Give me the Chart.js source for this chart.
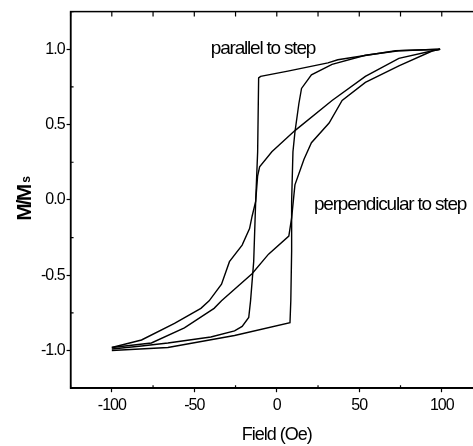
<!DOCTYPE html>
<html>
<head>
<meta charset="utf-8">
<script src="https://cdn.jsdelivr.net/npm/chart.js@4/dist/chart.umd.min.js"></script>
<style>
  html, body { margin: 0; padding: 0; background: #fff; overflow: hidden; }
  #wrap { width: 487px; height: 446px; }
</style>
</head>
<body>
<div id="wrap"><canvas id="loopChart" width="487" height="446"></canvas></div>
<script>
// ---- data (field in Oe, M/Ms) ----
const parDownField = [99, 72, 37, 31, 6.7, -9.8, -11, -11.6, -12.8, -14, -15.9, -17, -21, -25.6, -40, -66, -82, -100];
const parDownMag   = [1.0, 0.99, 0.93, 0.91, 0.855, 0.82, 0.81, 0.32, -0.01, -0.41, -0.67, -0.78, -0.84, -0.87, -0.91, -0.95, -0.97, -0.99];

const parUpField = [-100, -66, -25.6, 8, 8.5, 9, 9, 9.8, 11, 13.4, 15, 21, 33.5, 53.7, 74, 99];
const parUpMag   = [-1.0, -0.98, -0.90, -0.815, -0.67, -0.34, -0.01, 0.32, 0.45, 0.64, 0.74, 0.83, 0.90, 0.96, 0.99, 1.0];

const perpDownField = [99, 94.5, 74, 53.7, 33.5, 11, -3, -10.4, -11.6, -12.8, -15, -16.5, -21, -28.7, -33.5, -41, -46, -62, -82, -100];
const perpDownMag   = [1.0, 0.99, 0.94, 0.82, 0.66, 0.46, 0.32, 0.22, 0.16, -0.01, -0.11, -0.19, -0.30, -0.41, -0.56, -0.67, -0.72, -0.82, -0.93, -0.98];

const perpUpField = [-100, -76, -56, -38, -33.5, -15, -5, 7.3, 9, 10, 11, 16.5, 21, 31.7, 39.6, 53.7, 74, 94.5, 99];
const perpUpMag   = [-0.98, -0.95, -0.85, -0.72, -0.67, -0.49, -0.36, -0.24, -0.12, -0.01, 0.1, 0.27, 0.38, 0.51, 0.66, 0.78, 0.89, 0.99, 1.0];

const xTickLabels = [-100, -50, 0, 50, 100];
const yTickLabels = [-1.0, -0.5, 0.0, 0.5, 1.0];

// text labels placed at data coordinates
const notes = [
  { text: "parallel to step", x: -40, y: 1.0 },
  { text: "perpendicular to step", x: 22.5, y: -0.03 }
];

const FONT = "'Liberation Sans', Arial, sans-serif";

function toPoints(xs, ys) {
  return xs.map((x, i) => ({ x: x, y: ys[i] }));
}

function lineSet(label, xs, ys) {
  return {
    label: label,
    data: toPoints(xs, ys),
    showLine: true,
    borderColor: "#000",
    borderWidth: 1.4,
    pointRadius: 0,
    tension: 0,
    fill: false
  };
}

const isLabelled = (list, v) => list.some(t => Math.abs(t - v) < 1e-6);

// the printed figure uses a very tight typeface, squeeze the letters
const squeezePlugin = {
  id: "squeeze",
  beforeUpdate(chart) { chart.ctx.letterSpacing = "-1px"; },
  beforeDraw(chart) { chart.ctx.letterSpacing = "-1px"; }
};

// frame, inward ticks, notes and y title
const framePlugin = {
  id: "framePlugin",
  afterDraw(chart) {
    const ctx = chart.ctx;
    const a = chart.chartArea;
    const xs = chart.scales.x;
    const ys = chart.scales.y;
    ctx.save();
    ctx.strokeStyle = "#000";
    ctx.lineWidth = 1.5;
    ctx.strokeRect(a.left, a.top, a.right - a.left, a.bottom - a.top);

    ctx.lineWidth = 1.2;
    ctx.beginPath();
    xs.ticks.forEach(t => {
      const px = xs.getPixelForValue(t.value);
      ctx.moveTo(px, a.top);
      ctx.lineTo(px, a.top + 5);
      if (!isLabelled(xTickLabels, t.value)) {
        ctx.moveTo(px, a.bottom);
        ctx.lineTo(px, a.bottom - 3);
      }
    });
    ys.ticks.forEach(t => {
      if (!isLabelled(yTickLabels, t.value)) {
        const py = ys.getPixelForValue(t.value);
        ctx.moveTo(a.left, py);
        ctx.lineTo(a.left + 3, py);
      }
    });
    ctx.stroke();

    // notes
    ctx.fillStyle = "#000";
    ctx.letterSpacing = "-1.2px";
    ctx.font = "19px " + FONT;
    ctx.textAlign = "left";
    ctx.textBaseline = "middle";
    notes.forEach(n => {
      ctx.fillText(n.text, xs.getPixelForValue(n.x), ys.getPixelForValue(n.y));
    });

    // y title M/Ms, rotated
    const cy = (a.top + a.bottom) / 2;
    ctx.translate(25, cy);
    ctx.rotate(-Math.PI / 2);
    ctx.letterSpacing = "-2px";
    ctx.font = "bold 21px " + FONT;
    const w1 = ctx.measureText("M/M").width;
    ctx.font = "bold 12px " + FONT;
    const w2 = ctx.measureText("s").width;
    const start = -(w1 + w2 + 2) / 2;
    ctx.font = "bold 21px " + FONT;
    ctx.textBaseline = "middle";
    ctx.fillText("M/M", start, 0);
    ctx.font = "bold 12px " + FONT;
    ctx.fillText("s", start + w1 + 3, 2);
    ctx.restore();
  }
};

const ctx = document.getElementById("loopChart").getContext("2d");

new Chart(ctx, {
  type: "scatter",
  data: {
    datasets: [
      lineSet("parallel down", parDownField, parDownMag),
      lineSet("parallel up", parUpField, parUpMag),
      lineSet("perpendicular down", perpDownField, perpDownMag),
      lineSet("perpendicular up", perpUpField, perpUpMag)
    ]
  },
  options: {
    responsive: false,
    animation: false,
    layout: { padding: { left: 39, right: 0, top: -1, bottom: 0 } },
    plugins: {
      legend: { display: false },
      tooltip: { enabled: false }
    },
    scales: {
      x: {
        type: "linear",
        min: -125,
        max: 125,
        border: { display: true, color: "#000", width: 1.5 },
        grid: {
          drawOnChartArea: false,
          tickLength: 4,
          tickWidth: 1.2,
          tickColor: c => isLabelled(xTickLabels, c.tick.value) ? "#000" : "rgba(0,0,0,0)"
        },
        ticks: {
          stepSize: 25,
          autoSkip: false,
          maxRotation: 0,
          padding: 4,
          color: "#000",
          font: { family: FONT, size: 16 },
          callback: v => isLabelled(xTickLabels, v) ? String(v) : ""
        },
        title: {
          display: true,
          text: "Field (Oe)",
          color: "#000",
          font: { family: FONT, size: 18 },
          padding: { top: 5, bottom: 0 }
        }
      },
      y: {
        type: "linear",
        min: -1.25,
        max: 1.25,
        border: { display: true, color: "#000", width: 1.5 },
        grid: {
          drawOnChartArea: false,
          tickLength: 4,
          tickWidth: 1.2,
          tickColor: c => isLabelled(yTickLabels, c.tick.value) ? "#000" : "rgba(0,0,0,0)"
        },
        ticks: {
          stepSize: 0.25,
          autoSkip: false,
          padding: 2,
          color: "#000",
          font: { family: FONT, size: 16 },
          callback: v => isLabelled(yTickLabels, v) ? v.toFixed(1) : ""
        }
      }
    }
  },
  plugins: [squeezePlugin, framePlugin]
});
</script>
</body>
</html>
